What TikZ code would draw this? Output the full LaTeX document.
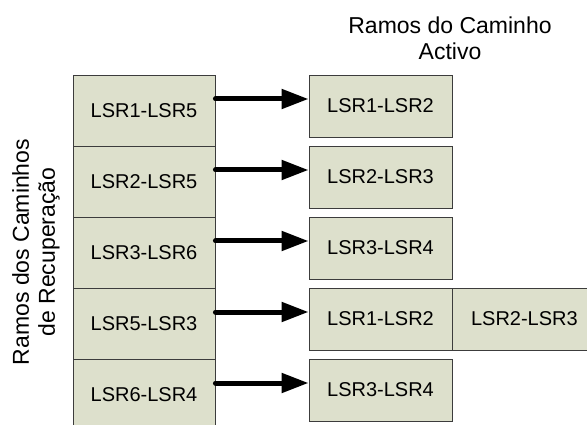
\documentclass[tikz,border=0pt]{standalone}
\usepackage{fontspec}
\setmainfont{Liberation Sans}
\usetikzlibrary{arrows.meta}
\definecolor{cellfill}{RGB}{221,224,204}
\definecolor{cellline}{RGB}{60,60,60}
\tikzset{
  cell/.style={draw=cellline, fill=cellfill, line width=0.9pt, inner sep=0pt,
    font=\fontsize{20}{24}\selectfont},
  leftcell/.style={cell, minimum width=142pt, minimum height=71pt},
  rightcell/.style={cell, minimum width=143pt, minimum height=62pt},
  link/.style={line width=5pt, line cap=round, -{Triangle[length=27pt,width=19pt]}},
  heading/.style={font=\fontsize{23}{26}\selectfont, align=center, inner sep=0pt}
}
\begin{document}
\begin{tikzpicture}[x=1pt,y=-1pt]
  \useasboundingbox (0,0) rectangle (587,425);
  \clip (0,0) rectangle (587,425);

  % recovery path column
  \node[leftcell] (l1) at (144,110.5) {LSR1-LSR5};
  \node[leftcell] (l2) at (144,181.5) {LSR2-LSR5};
  \node[leftcell] (l3) at (144,252.5) {LSR3-LSR6};
  \node[leftcell] (l4) at (144,323.5) {LSR5-LSR3};
  \node[leftcell] (l5) at (144,394.5) {LSR6-LSR4};

  % active path segments
  \node[rightcell] (r1) at (380.5,106) {LSR1-LSR2};
  \node[rightcell] (r2) at (380.5,177) {LSR2-LSR3};
  \node[rightcell] (r3) at (380.5,248) {LSR3-LSR4};
  \node[rightcell] (r4) at (380.5,319) {LSR1-LSR2};
  \node[rightcell, anchor=west] (r4b) at (r4.east) {LSR2-LSR3};
  \node[rightcell] (r5) at (380.5,390) {LSR3-LSR4};

  % connectors
  \foreach \i in {1,...,5}
    \draw[link] ([yshift=11.5pt]l\i.east) -- ([yshift=11.5pt]l\i.east -| r\i.west);

  % headings
  \node[heading] (htop) at (450,38) {Ramos do Caminho\\Activo};
  \node[heading, rotate=90] (hleft) at (36,252) {Ramos dos Caminhos\\de Recuperação};
\end{tikzpicture}
\end{document}
